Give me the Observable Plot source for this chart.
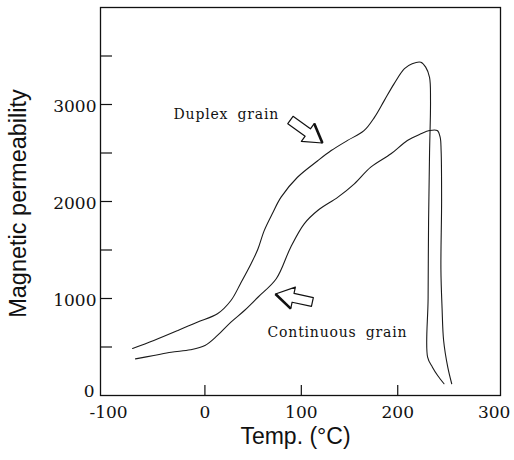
<!DOCTYPE html>
<html><head><meta charset="utf-8">
<script src="https://cdn.jsdelivr.net/npm/d3@7"></script>
<script src="https://cdn.jsdelivr.net/npm/@observablehq/plot@0.6"></script>
<style>
html,body{margin:0;padding:0;background:#fff;}
</style></head><body><div id="chart"></div>
<script>
// Duplex grain curve (temperature °C, magnetic permeability)
const duplexT = [-75,-53,-28,-8,13,27,37,48,55,61.5,70,79,96,117,131,148,165,176,186,196,207,215,224,229,233,234,233,232,231.5,231,236,241.4,248];
const duplexV = [485,567,670,756,842,979,1155,1360,1510,1700,1876,2045,2250,2420,2525,2630,2730,2870,3040,3210,3370,3420,3435,3385,3280,3040,2500,1800,1000,395,292,206,121];
// Continuous grain curve
const contT = [-72,-53,-35,-15,0,13,27,41,55,74,89,103,117,138,155,172,193,210,224,233,241,244,245,245.5,244.8,246,247.6,251.9,256];
const contV = [378,412,446,471,515,619,756,876,1013,1203,1529,1770,1907,2045,2182,2354,2492,2629,2698,2732,2732,2663,2525,2000,1300,900,567,292,121];

const xLabelTicks = [-100, 0, 100, 200, 300];
const xInnerTicks = [0, 100, 200];
const yZeroTick = [0];
const yLabelTicks = [1000, 2000, 3000];
const yInnerTicks = [500, 1000, 1500, 2000, 2500, 3000, 3500];

const yTitle = "Magnetic permeability";
const xTitle = "Temp. (°C)";

// annotation labels (left/baseline in data units)
const noteText = ["Duplex grain", "Continuous grain"];
const noteT = [-32.5, 65];
const noteV = [2853, 601];
// annotation arrows (tail -> tip in data units)
const arrowT1 = [89.2, 112];
const arrowV1 = [2835, 959];
const arrowT2 = [122.4, 73.7];
const arrowV2 = [2598, 1041];

const duplex = duplexT.map((t, i) => ({t, v: duplexV[i]}));
const cont = contT.map((t, i) => ({t, v: contV[i]}));
const notes = noteText.map((text, i) => ({text, t: noteT[i], v: noteV[i]}));
const arrows = arrowT1.map((t1, i) => ({t1, v1: arrowV1[i], t2: arrowT2[i], v2: arrowV2[i]}));

function arrowMark(index, scales) {
  const g = d3.create("svg:g").attr("aria-label", "arrows");
  for (const a of arrows) {
    const x1 = scales.x(a.t1), y1 = scales.y(a.v1), x2 = scales.x(a.t2), y2 = scales.y(a.v2);
    const dx = x2 - x1, dy = y2 - y1, L = Math.hypot(dx, dy);
    const ux = dx / L, uy = dy / L, nx = -uy, ny = ux;
    const hl = 18, hw = 11, sw = 4.5;
    const bx = x2 - ux * hl, by = y2 - uy * hl;
    const pts = [
      [x1 + nx * sw, y1 + ny * sw],
      [bx + nx * sw, by + ny * sw],
      [bx + nx * hw, by + ny * hw],
      [x2, y2],
      [bx - nx * hw, by - ny * hw],
      [bx - nx * sw, by - ny * sw],
      [x1 - nx * sw, y1 - ny * sw]
    ];
    g.append("path").attr("d", "M" + pts.map(p => p.join(",")).join("L") + "Z")
      .attr("fill", "white").attr("stroke", "#111").attr("stroke-width", 1.2).attr("stroke-linejoin", "round");
    g.append("path").attr("d", `M${bx - nx * hw},${by - ny * hw}L${x2},${y2}`)
      .attr("stroke", "#111").attr("stroke-width", 2.6).attr("fill", "none");
  }
  return g.node();
}

const chart = Plot.plot({
  width: 514, height: 460,
  marginLeft: 100, marginRight: 14, marginTop: 7, marginBottom: 65,
  x: {domain: [-108.3, 306.6]},
  y: {domain: [0, 4000]},
  style: {fontFamily: "DejaVu Serif", background: "white", color: "#111"},
  marks: [
    Plot.frame({stroke: "#111", strokeWidth: 1.3}),
    Plot.axisY(yInnerTicks, {tickSize: -12, fill: "none", label: null, strokeWidth: 1.2}),
    Plot.axisY(yLabelTicks, {tickSize: 0, tickPadding: 4, fontSize: 17, label: null, dy: 2, tickFormat: d => String(d)}),
    Plot.axisY(yZeroTick, {tickSize: 0, tickPadding: 6, fontSize: 17, label: null, dy: -4, tickFormat: d => String(d)}),
    Plot.axisX(xInnerTicks, {tickSize: -10, fill: "none", label: null, strokeWidth: 1.2}),
    Plot.axisX(xLabelTicks, {tickSize: 0, tickPadding: 10, fontSize: 17, label: null, tickFormat: d => String(d)}),
    Plot.line(duplex, {x: "t", y: "v", stroke: "#1a1a1a", strokeWidth: 1.1, curve: "catmull-rom"}),
    Plot.line(cont, {x: "t", y: "v", stroke: "#1a1a1a", strokeWidth: 1.1, curve: "catmull-rom"}),
    Plot.text(notes, {x: "t", y: "v", text: "text", textAnchor: "start", lineAnchor: "bottom", fontSize: 14, fill: "#111"}),
    arrowMark,
    Plot.text([yTitle], {frameAnchor: "left", rotate: -90, textAnchor: "middle", dx: -75, dy: 2, lineAnchor: "bottom", fontSize: 23.5, fontFamily: "Liberation Sans", fill: "#111"}),
    Plot.text([xTitle], {frameAnchor: "bottom", textAnchor: "middle", dx: -5, dy: 48.5, lineAnchor: "bottom", fontSize: 23, fontFamily: "Liberation Sans", fill: "#111"})
  ]
});
document.getElementById("chart").appendChild(chart);
d3.select(chart).selectAll("g[aria-label='text'] text").each(function() {
  const t = this.textContent;
  if (t === "Duplex grain" || t === "Continuous grain") {
    d3.select(this).attr("letter-spacing", "0.8px").attr("word-spacing", "4px");
  }
});
</script></body></html>
